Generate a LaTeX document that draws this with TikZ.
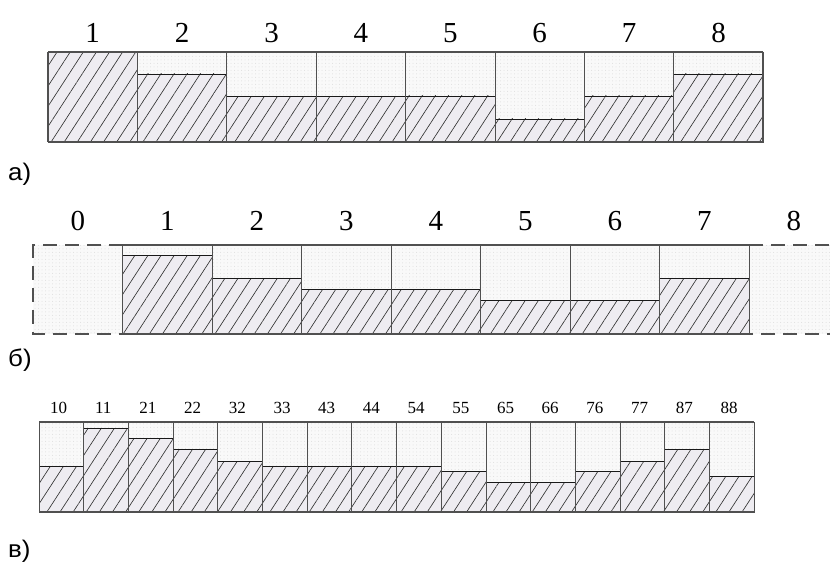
\documentclass[tikz,border=0pt]{standalone}
\usepackage{fontspec}
\setmainfont{Liberation Serif}
\newfontfamily\lsans{Liberation Sans}
\usetikzlibrary{patterns.meta}
\definecolor{hatchbg}{RGB}{238,236,241}
\definecolor{toptex}{RGB}{249,249,249}
\definecolor{edgegray}{RGB}{80,80,80}
\tikzset{
  hatched/.style={fill=hatchbg, postaction={pattern={Lines[angle=57,distance=11pt,line width=0.65pt]}, pattern color=black!80}},
  texture/.style={fill=toptex, postaction={pattern={Dots[radius=0.5pt,distance=3.5pt]}, pattern color=black!13}},
  levelline/.style={draw=black!90, line width=0.8pt},
  sep/.style={draw=edgegray, line width=0.9pt},
  rim/.style={draw=edgegray, line width=1.6pt},
  dashrim/.style={draw=edgegray, line width=1.5pt, dash pattern=on 14pt off 8pt},
  numbig/.style={font=\fontsize{29}{31}\selectfont, anchor=base, inner sep=0pt},
  numsmall/.style={font=\fontsize{17}{19}\selectfont, anchor=base, inner sep=0pt},
  panellab/.style={font=\lsans\fontsize{24}{26}\selectfont, anchor=base west, inner sep=0pt, xscale=1.08}
}
\begin{document}
\begin{tikzpicture}[x=1pt,y=-1pt]
\useasboundingbox (0,0) rectangle (830,564);
\clip (0,0) rectangle (830,564);

% ---------- panel a ----------
\foreach \i/\lv in {0/52,1/74,2/96.5,3/96.5,4/96,5/119,6/96,7/74} {
  \pgfmathsetmacro\xa{48+89.4*\i}
  \pgfmathsetmacro\xb{\xa+89.4}
  \pgfmathtruncatemacro\lab{\i+1}
  \fill[texture] (\xa,52) rectangle (\xb,\lv);
  \fill[hatched] (\xa,\lv) rectangle (\xb,142);
  \draw[levelline] (\xa,\lv) -- (\xb,\lv);
  \draw[sep] (\xa,52) rectangle (\xb,142);
  \node[numbig] (a\lab) at ({\xa+44.7},43) {\lab};
}
\draw[rim] (48,52) -- (763,52);
\draw[rim] (48,142) -- (763,142);
\draw[rim] (48,52) -- (48,142);
\draw[rim] (763,52) -- (763,142);
\node[panellab] (la) at (8,181) {а)};

% ---------- panel b ----------
\fill[texture] (33,245) rectangle (122.5,334);
\fill[texture] (749,245) rectangle (838.5,334);
\foreach \i/\lv in {1/255,2/278,3/289,4/289,5/300,6/300,7/278} {
  \pgfmathsetmacro\xa{33+89.5*\i}
  \pgfmathsetmacro\xb{\xa+89.5}
  \fill[texture] (\xa,245) rectangle (\xb,\lv);
  \fill[hatched] (\xa,\lv) rectangle (\xb,334);
  \draw[levelline] (\xa,\lv) -- (\xb,\lv);
  \draw[sep] (\xa,245) rectangle (\xb,334);
}
\foreach \i in {0,...,8} {
  \node[numbig] (b\i) at ({33+89.5*\i+44.75},230) {\i};
}
\draw[rim] (122.5,245) -- (749,245);
\draw[rim] (122.5,334) -- (749,334);
\draw[dashrim] (122.5,245) -- (33,245) -- (33,334) -- (122.5,334);
\draw[dashrim] (749,245) -- (838.5,245) -- (838.5,334) -- (749,334);
\node[panellab] (lb) at (8,366) {б)};

% ---------- panel c ----------
\foreach \i/\lv/\lab in {0/466/10,1/428/11,2/438/21,3/449/22,4/461/32,5/466/33,6/466/43,7/466/44,8/466/54,9/471/55,10/482/65,11/482/66,12/471/76,13/461/77,14/449/87,15/476/88} {
  \pgfmathsetmacro\xa{39+44.7*\i}
  \pgfmathsetmacro\xb{\xa+44.7}
  \fill[texture] (\xa,422) rectangle (\xb,\lv);
  \fill[hatched] (\xa,\lv) rectangle (\xb,512);
  \draw[levelline] (\xa,\lv) -- (\xb,\lv);
  \draw[sep] (\xa,422) rectangle (\xb,512);
  \node[numsmall] (c\lab) at ({\xa+19.5},413) {\lab};
}
\draw[rim, line width=1.3pt] (39,422) -- (754,422);
\draw[rim, line width=1.3pt] (39,512) -- (754,512);
\node[panellab] (lc) at (8,557) {в)};
\end{tikzpicture}
\end{document}
